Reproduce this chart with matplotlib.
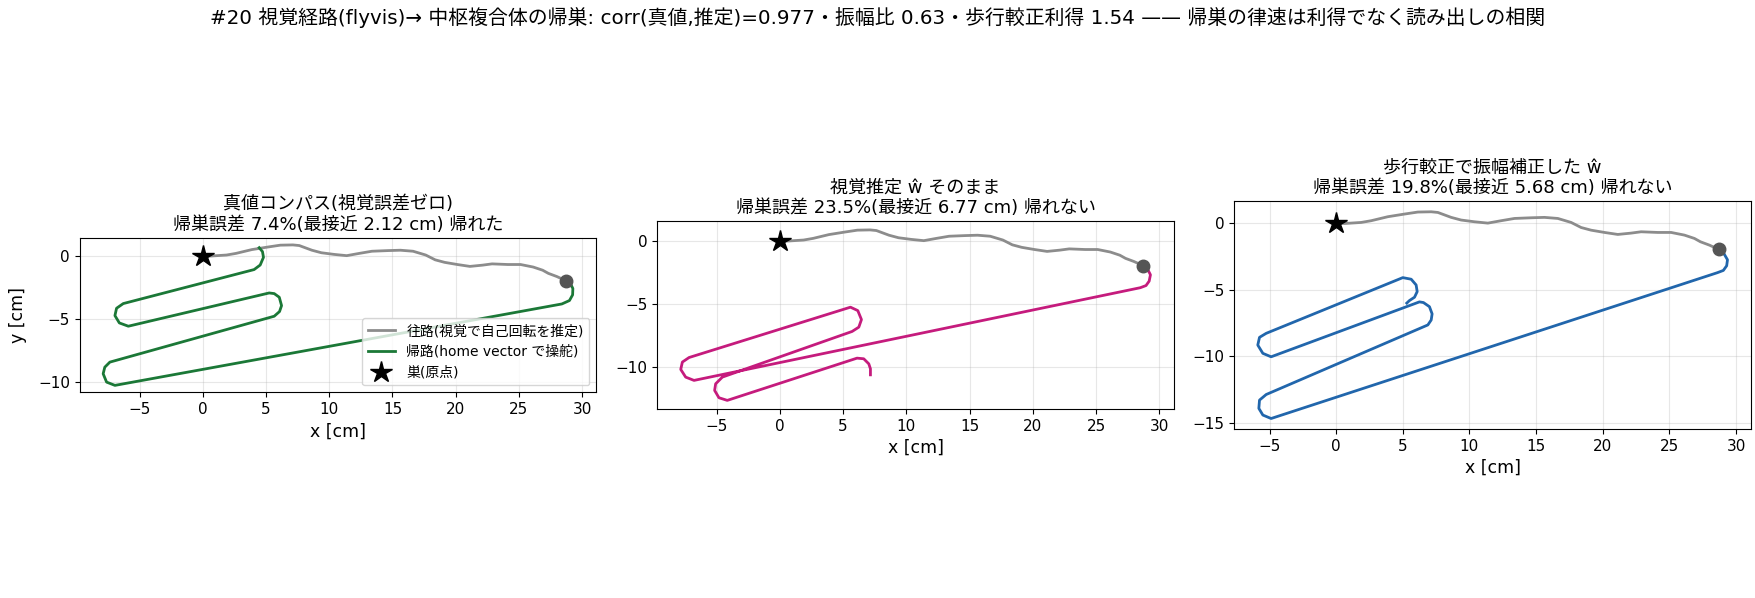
"""Homing trajectories: true compass vs visual estimate vs gait-calibrated estimate."""

import matplotlib
matplotlib.use("Agg")
import matplotlib.pyplot as plt
from matplotlib.ticker import MultipleLocator

plt.rcParams["font.family"] = ["DejaVu Sans", "Noto Sans CJK JP"]

# outbound path (same in every panel), cm
out_x = [0, 0.63, 1.88, 2.63, 3.88, 5.13, 6.13, 7.13, 7.63, 8.63, 9.38, 10.38,
         11.38, 12.38, 13.38, 14.63, 15.63, 16.63, 17.63, 18.38, 19.13, 20.13,
         21.13, 22.13, 22.88, 24.13, 25.13, 26.13, 26.88, 27.33, 28.0, 28.7]
out_y = [0, -0.03, 0.05, 0.18, 0.48, 0.68, 0.83, 0.85, 0.8, 0.43, 0.23, 0.1,
         0.0, 0.18, 0.35, 0.4, 0.43, 0.35, 0.05, -0.33, -0.53, -0.7,
         -0.85, -0.75, -0.65, -0.7, -0.7, -0.9, -1.15, -1.4, -1.65, -1.97]

# homeward path, true compass
true_x = [28.7, 29.1, 29.27, 29.25, 29.0, 28.4,
          -6.95, -7.61, -7.88, -7.75, -7.35,
          5.65, 6.07, 6.23, 6.05, 5.65, 5.25,
          -5.89, -6.6, -6.95, -6.82, -6.29,
          4.06, 4.54, 4.8, 4.72, 4.46]
true_y = [-1.97, -2.25, -2.6, -3.1, -3.55, -3.82,
          -10.26, -10.0, -9.34, -8.82, -8.42,
          -4.79, -4.42, -3.95, -3.29, -3.0, -2.95,
          -5.58, -5.32, -4.74, -4.16, -3.79,
          -1.1, -0.74, -0.13, 0.32, 0.63]

# homeward path, raw visual estimate
vis_x = [28.7, 29.1, 29.3, 29.2, 28.95, 28.5,
         -6.79, -7.45, -7.84, -7.71, -7.18,
         5.58, 6.16, 6.45, 6.24, 5.71,
         -4.55, -5.08, -5.16, -4.82, -4.16,
         6.1, 6.63, 7.03, 7.16, 7.16]
vis_y = [-1.97, -2.3, -2.7, -3.2, -3.55, -3.72,
         -11.05, -10.79, -10.18, -9.6, -9.24,
         -5.26, -5.53, -6.24, -6.84, -7.18,
         -10.79, -11.32, -11.84, -12.42, -12.63,
         -9.29, -9.34, -9.74, -10.13, -10.61]

# homeward path, gait-calibrated estimate
cal_x = [28.7, 29.1, 29.36, 29.3, 29.05, 28.6,
         -4.88, -5.5, -5.8, -5.75, -5.25,
         6.88, 7.13, 7.2, 7.0, 6.55, 6.25,
         -4.88, -5.5, -5.88, -5.75, -5.25,
         5.0, 5.63, 6.0, 6.08, 5.88, 5.5, 5.3]
cal_y = [-1.97, -2.3, -2.75, -3.2, -3.55, -3.72,
         -14.66, -14.4, -13.9, -13.28, -12.86,
         -7.64, -7.27, -6.81, -6.27, -5.96, -5.91,
         -10.03, -9.77, -9.15, -8.57, -8.27,
         -4.09, -4.21, -4.64, -5.14, -5.56, -5.81, -6.0]

panels = [
    ("真値コンパス(視覚誤差ゼロ)\n帰巣誤差 7.4%(最接近 2.12 cm) 帰れた", true_x, true_y, "#1b7837"),
    ("視覚推定 ŵ そのまま\n帰巣誤差 23.5%(最接近 6.77 cm) 帰れない", vis_x, vis_y, "#c51b7d"),
    ("歩行較正で振幅補正した ŵ\n帰巣誤差 19.8%(最接近 5.68 cm) 帰れない", cal_x, cal_y, "#2166ac"),
]

fig = plt.figure(figsize=(17.55, 5.98), dpi=100)
lefts = [0.0454, 0.3745, 0.7033]

for i, (title, hx, hy, col) in enumerate(panels):
    ax = fig.add_axes([lefts[i], 0.198, 0.2944, 0.55])
    ax.plot(out_x, out_y, color="0.55", lw=2, label="往路(視覚で自己回転を推定)")
    ax.plot(hx, hy, color=col, lw=2, label="帰路(home vector で操舵)")
    ax.plot(0, 0, "k*", ms=16, ls="none", label="巣(原点)", zorder=5)
    ax.plot(out_x[-1], out_y[-1], "o", color="#555555", ms=9, zorder=5)
    ax.set_aspect("equal", adjustable="box", anchor="C")
    ax.yaxis.set_major_locator(MultipleLocator(5))
    ax.tick_params(labelsize=11)
    ax.set_title(title, fontsize=13)
    ax.set_xlabel("x [cm]", fontsize=12.5)
    if i == 0:
        ax.set_ylabel("y [cm]", fontsize=12.5, labelpad=8)
        ax.legend(loc="lower right", fontsize=10)
    ax.grid(True, alpha=0.3)

fig.suptitle("#20 視覚経路(flyvis)→ 中枢複合体の帰巣: corr(真値,推定)=0.977・振幅比 0.63・"
             "歩行較正利得 1.54 —— 帰巣の律速は利得でなく読み出しの相関",
             fontsize=14.3, y=0.989)
fig.savefig("out.png", dpi=100)
